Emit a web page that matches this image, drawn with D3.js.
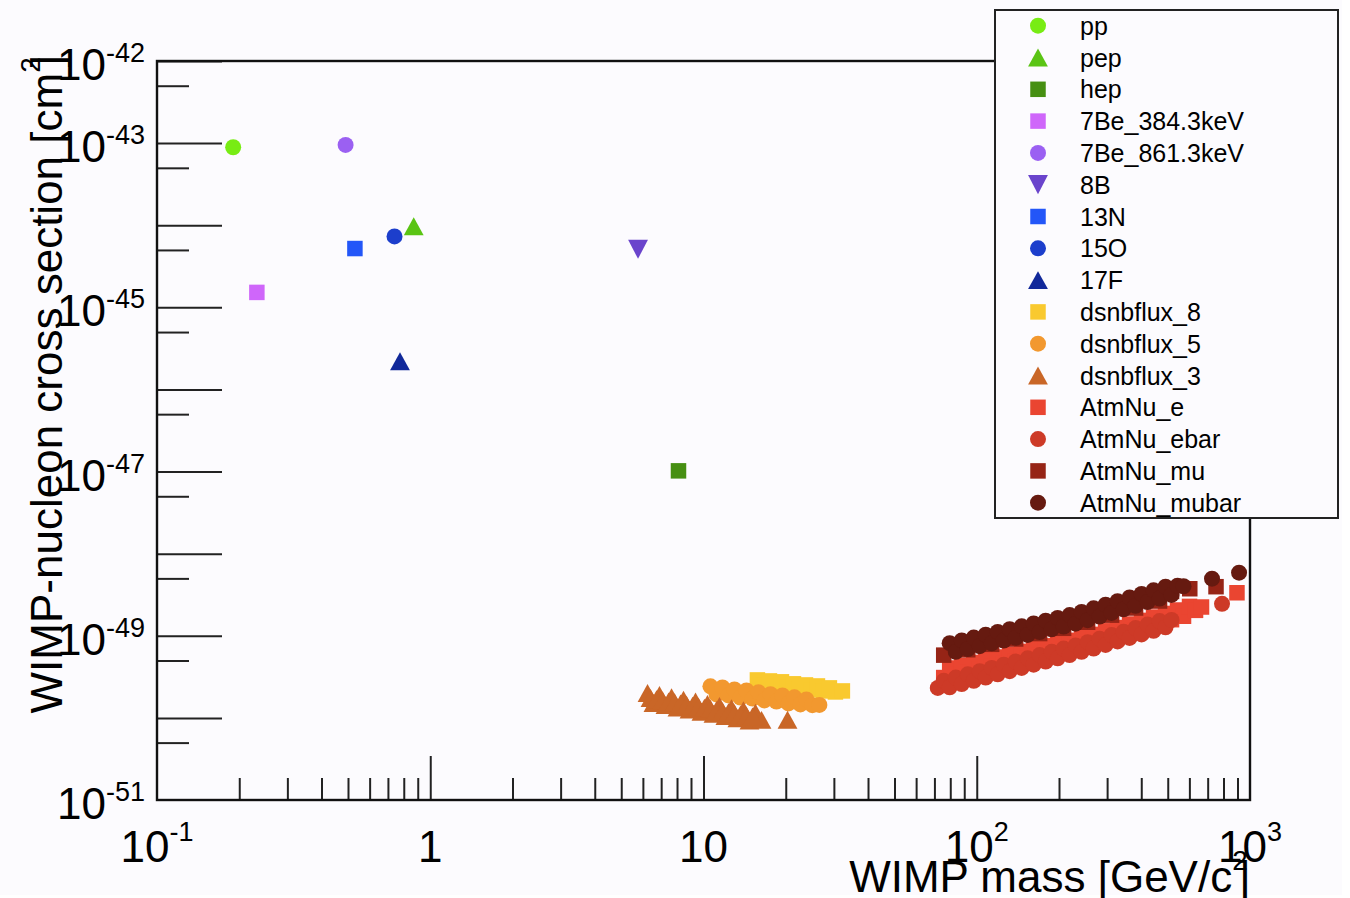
<!DOCTYPE html>
<html>
<head>
<meta charset="utf-8">
<script src="https://cdn.jsdelivr.net/npm/d3@7"></script>
<style>
  html, body { margin: 0; padding: 0; background: #ffffff; }
  svg { display: block; font-family: "Liberation Sans", Arial, Helvetica, sans-serif; }
</style>
</head>
<body>
<svg id="chart" width="1350" height="898"></svg>
<script>
// ---- data ----
const seriesNames = ["pp", "pep", "hep", "7Be_384.3keV", "7Be_861.3keV", "8B", "13N", "15O", "17F",
  "dsnbflux_8", "dsnbflux_5", "dsnbflux_3", "AtmNu_e", "AtmNu_ebar", "AtmNu_mu", "AtmNu_mubar"];

// [WIMP mass GeV/c^2, cross section cm^2]
const ppPoints = [[0.19, 8.9e-44]];
const pepPoints = [[0.87, 9.7e-45]];
const hepPoints = [[8.1, 1.02e-47]];
const be384Points = [[0.232, 1.52e-45]];
const be861Points = [[0.49, 9.5e-44]];
const b8Points = [[5.76, 5.1e-45]];
const n13Points = [[0.53, 5.2e-45]];
const o15Points = [[0.74, 7.3e-45]];
const f17Points = [[0.775, 2.2e-46]];

const dsnb8Points = [
  [15.75, 2.90e-50], [16.57, 2.52e-50], [17.43, 2.82e-50], [18.34, 2.45e-50], [19.29, 2.75e-50],
  [20.29, 2.39e-50], [21.34, 2.60e-50], [22.44, 2.26e-50], [23.61, 2.52e-50], [24.83, 2.19e-50],
  [26.12, 2.45e-50], [27.47, 2.13e-50], [28.89, 2.32e-50], [30.39, 2.07e-50], [32.23, 2.13e-50]];
const dsnb5Points = [
  [10.6, 2.42e-50], [11.16, 1.93e-50], [11.73, 2.35e-50], [12.34, 1.88e-50], [12.98, 2.22e-50],
  [13.65, 1.77e-50], [14.36, 2.16e-50], [15.11, 1.72e-50], [15.89, 2.05e-50], [16.71, 1.63e-50],
  [17.58, 1.94e-50], [18.49, 1.58e-50], [19.45, 1.88e-50], [20.46, 1.50e-50], [21.51, 1.78e-50],
  [22.63, 1.46e-50], [23.80, 1.68e-50], [25.03, 1.43e-50], [26.55, 1.44e-50]];
const dsnb3Points = [
  [6.24, 2.01e-50], [6.56, 1.52e-50], [6.90, 1.90e-50], [7.26, 1.43e-50], [7.64, 1.78e-50],
  [8.03, 1.34e-50], [8.45, 1.67e-50], [8.89, 1.26e-50], [9.35, 1.58e-50], [9.83, 1.19e-50],
  [10.34, 1.48e-50], [10.88, 1.12e-50], [11.44, 1.40e-50], [12.03, 1.05e-50], [12.66, 1.31e-50],
  [13.31, 9.89e-51], [14.00, 1.24e-50], [14.73, 9.31e-51], [15.49, 1.16e-50], [16.30, 9.46e-51],
  [20.3, 9.5e-51],
  [6.40, 1.75e-50], [6.73, 1.69e-50], [7.08, 1.64e-50], [7.45, 1.59e-50], [7.84, 1.55e-50],
  [8.24, 1.50e-50], [8.67, 1.45e-50], [9.12, 1.41e-50], [9.59, 1.37e-50], [10.08, 1.33e-50],
  [10.60, 1.29e-50], [11.16, 1.25e-50], [11.73, 1.21e-50], [12.34, 1.17e-50], [12.98, 1.14e-50],
  [13.65, 1.10e-50], [14.36, 1.07e-50], [15.11, 1.04e-50]];

const atmEPoints = [
  [75.7, 3.10e-50], [79.6, 4.05e-50], [83.8, 3.36e-50], [88.1, 4.38e-50], [92.7, 3.63e-50],
  [97.5, 4.73e-50], [102.5, 3.93e-50], [107.8, 5.12e-50], [113.4, 4.24e-50], [119.3, 5.52e-50],
  [125.5, 4.58e-50], [132.0, 5.97e-50], [138.8, 4.95e-50], [146.0, 6.46e-50], [153.6, 5.36e-50],
  [161.5, 6.98e-50], [169.9, 5.79e-50], [178.7, 7.55e-50], [188.0, 6.27e-50], [197.7, 8.17e-50],
  [207.9, 6.78e-50], [218.7, 8.81e-50], [230.0, 7.31e-50], [241.9, 9.53e-50], [254.5, 7.91e-50],
  [267.7, 1.04e-49], [281.5, 8.69e-50], [296.1, 1.15e-49], [311.5, 9.59e-50], [327.6, 1.26e-49],
  [344.6, 1.06e-49], [362.5, 1.39e-49], [381.2, 1.17e-49], [401.0, 1.54e-49], [421.8, 1.29e-49],
  [443.6, 1.69e-49], [466.6, 1.42e-49], [490.8, 1.87e-49], [516.2, 1.57e-49], [543.0, 2.06e-49],
  [571.1, 1.73e-49], [600.7, 2.28e-49], [631.9, 2.04e-49], [664.6, 2.24e-49], [896, 3.34e-49]];
const atmEbarPoints = [
  [72.0, 2.32e-50], [75.7, 2.83e-50], [79.6, 2.36e-50], [83.8, 3.10e-50], [88.1, 2.58e-50],
  [92.7, 3.39e-50], [97.5, 2.83e-50], [102.5, 3.71e-50], [107.8, 3.10e-50], [113.4, 4.06e-50],
  [119.3, 3.39e-50], [125.5, 4.45e-50], [132.0, 3.71e-50], [138.8, 4.86e-50], [146.0, 4.06e-50],
  [153.6, 5.32e-50], [161.5, 4.45e-50], [169.9, 5.82e-50], [178.7, 4.86e-50], [188.0, 6.37e-50],
  [197.7, 5.32e-50], [207.9, 6.98e-50], [218.7, 5.82e-50], [230.0, 7.64e-50], [241.9, 6.37e-50],
  [254.5, 8.36e-50], [267.7, 7.00e-50], [281.5, 9.23e-50], [296.1, 7.73e-50], [311.5, 1.02e-49],
  [327.6, 8.53e-50], [344.6, 1.12e-49], [362.5, 9.42e-50], [381.2, 1.24e-49], [401.0, 1.04e-49],
  [421.8, 1.37e-49], [443.6, 1.15e-49], [466.6, 1.51e-49], [490.8, 1.27e-49], [516.2, 1.56e-49],
  [790, 2.45e-49]];
const atmMuPoints = [
  [75.7, 5.81e-50], [83.8, 7.41e-50], [92.7, 6.76e-50], [102.5, 8.63e-50], [113.4, 7.87e-50],
  [125.5, 1.005e-49], [138.8, 9.14e-50], [153.6, 1.167e-49], [169.9, 1.064e-49], [188.0, 1.355e-49],
  [207.9, 1.233e-49], [230.0, 1.578e-49], [254.5, 1.462e-49], [281.5, 1.91e-49], [311.5, 1.782e-49],
  [344.6, 2.328e-49], [381.2, 2.178e-49], [421.8, 2.844e-49], [466.6, 2.649e-49], [516.2, 3.467e-49],
  [602, 3.74e-49], [751, 3.96e-49]];
const atmMubarPoints = [
  [79.6, 8.13e-50], [83.8, 6.38e-50], [88.1, 8.79e-50], [92.7, 6.90e-50], [97.5, 9.51e-50],
  [102.5, 7.48e-50], [107.8, 1.03e-49], [113.4, 8.09e-50], [119.3, 1.114e-49], [125.5, 8.75e-50],
  [132.0, 1.205e-49], [138.8, 9.46e-50], [146.0, 1.303e-49], [153.6, 1.025e-49], [161.5, 1.413e-49],
  [169.9, 1.109e-49], [178.7, 1.528e-49], [188.0, 1.200e-49], [197.7, 1.652e-49], [207.9, 1.297e-49],
  [218.7, 1.786e-49], [230.0, 1.403e-49], [241.9, 1.950e-49], [254.5, 1.549e-49], [267.7, 2.158e-49],
  [281.5, 1.714e-49], [296.1, 2.388e-49], [311.5, 1.897e-49], [327.6, 2.642e-49], [344.6, 2.099e-49],
  [362.5, 2.924e-49], [381.2, 2.323e-49], [401.0, 3.236e-49], [421.8, 2.570e-49], [443.6, 3.581e-49],
  [466.6, 2.844e-49], [490.8, 3.963e-49], [516.2, 3.148e-49], [543.0, 4.08e-49], [571.1, 4.01e-49],
  [726, 4.96e-49], [912, 5.87e-49]];

const seriesPoints = [ppPoints, pepPoints, hepPoints, be384Points, be861Points, b8Points,
  n13Points, o15Points, f17Points, dsnb8Points, dsnb5Points, dsnb3Points,
  atmEPoints, atmEbarPoints, atmMuPoints, atmMubarPoints];

// axis labels
const xLabelValues = [0.1, 1, 10, 100, 1000];
const xLabelBase = ["10", "1", "10", "10", "10"];
const xLabelExp = ["-1", "", "", "2", "3"];
const yLabelExponents = [-42, -43, -45, -47, -49, -51];
const xTitle = "WIMP mass [GeV/c";
const yTitle = "WIMP-nucleon cross section [cm";

// ---- styles ----
const colors = ["#78ec14", "#5ac414", "#468f12", "#cf66fa", "#9b60f2", "#6a44cc", "#2356f8", "#1c3ecc",
  "#11289a", "#f9c92f", "#f2982f", "#c96627", "#ea4531", "#cd3a27", "#962416", "#661a10"];
const shapes = ["circle", "triUp", "square", "square", "circle", "triDown", "square", "circle",
  "triUp", "square", "circle", "triUp", "square", "circle", "square", "circle"];

const frame = { left: 157, right: 1250, top: 61, bottom: 800 };
const BG = "#fcfbfe";

const svg = d3.select("#chart");

// pad background
svg.append("rect").attr("x", 0).attr("y", 0).attr("width", 1342).attr("height", 895).attr("fill", BG);

// scales
const x = d3.scaleLog().domain([0.1, 1000]).range([frame.left, frame.right]);
const y = d3.scaleLog().domain([1e-51, 1e-42]).range([frame.bottom, frame.top]);

// marker shapes, centred on their bounding box
const triUp = { draw(ctx, size) { const w = Math.sqrt(size) * 0.62, h = Math.sqrt(size) * 0.56;
  ctx.moveTo(0, -h); ctx.lineTo(w, h); ctx.lineTo(-w, h); ctx.closePath(); } };
const triDown = { draw(ctx, size) { const w = Math.sqrt(size) * 0.62, h = Math.sqrt(size) * 0.6;
  ctx.moveTo(0, h); ctx.lineTo(w, -h); ctx.lineTo(-w, -h); ctx.closePath(); } };
const symbolFor = (shape) => {
  if (shape === "circle") return d3.symbol(d3.symbolCircle, Math.PI * 8 * 8);
  if (shape === "square") return d3.symbol(d3.symbolSquare, 15.5 * 15.5);
  if (shape === "triUp") return d3.symbol(triUp, 16 * 16);
  return d3.symbol(triDown, 16 * 16);
};

// x axis ticks (pointing up into the frame)
const xMinor = [];
[0.1, 1, 10, 100].forEach((d) => { for (let k = 2; k <= 9; k++) xMinor.push(d * k); });
const xMajor = [1, 10, 100];

const gx = svg.append("g").attr("transform", `translate(0,${frame.bottom})`);
gx.append("g").call(d3.axisBottom(x).tickValues(xMinor).tickSize(-22).tickSizeOuter(0).tickFormat(""));
gx.append("g").call(d3.axisBottom(x).tickValues(xMajor).tickSize(-44).tickSizeOuter(0).tickFormat(""));
gx.selectAll(".domain").remove();
gx.selectAll("line").attr("stroke", "#222").attr("stroke-width", 2);

// y axis ticks (pointing right into the frame)
const yMajor = d3.range(-50, -41).map((e) => Math.pow(10, e));
const yMinor = d3.range(-51, -42).map((e) => 5 * Math.pow(10, e));
const gy = svg.append("g").attr("transform", `translate(${frame.left},0)`);
gy.append("g").call(d3.axisLeft(y).tickValues(yMinor).tickSize(-32).tickSizeOuter(0).tickFormat(""));
gy.append("g").call(d3.axisLeft(y).tickValues(yMajor).tickSize(-65).tickSizeOuter(0).tickFormat(""));
gy.selectAll(".domain").remove();
gy.selectAll("line").attr("stroke", "#222").attr("stroke-width", 2);

// frame
svg.append("rect")
  .attr("x", frame.left).attr("y", frame.top)
  .attr("width", frame.right - frame.left).attr("height", frame.bottom - frame.top)
  .attr("fill", "none").attr("stroke", "#111").attr("stroke-width", 2.4);

// x tick labels
const xl = svg.append("g").attr("font-size", 44).attr("fill", "#000");
xLabelValues.forEach((v, i) => {
  const t = xl.append("text").attr("x", x(v)).attr("y", 862).attr("text-anchor", "middle");
  t.append("tspan").text(xLabelBase[i]);
  if (xLabelExp[i]) t.append("tspan").attr("font-size", 27).attr("dy", -21).text(xLabelExp[i]);
});

// y tick labels
const yl = svg.append("g").attr("font-size", 44).attr("fill", "#000");
yLabelExponents.forEach((e) => {
  const t = yl.append("text").attr("x", 145).attr("y", y(Math.pow(10, e)) + 19).attr("text-anchor", "end");
  t.append("tspan").text("10");
  t.append("tspan").attr("font-size", 27).attr("dy", -18).text(String(e));
});

// axis titles
const xt = svg.append("text").attr("x", frame.right).attr("y", 892)
  .attr("text-anchor", "end").attr("font-size", 44);
xt.append("tspan").text(xTitle);
xt.append("tspan").attr("font-size", 28).attr("dy", -22).text("2");
xt.append("tspan").attr("dy", 22).attr("dx", -10).text("]");

const yt = svg.append("text").attr("transform", `translate(62,55) rotate(-90)`)
  .attr("text-anchor", "end").attr("font-size", 44);
yt.append("tspan").text(yTitle);
yt.append("tspan").attr("font-size", 28).attr("dy", -22).text("2");
yt.append("tspan").attr("dy", 22).attr("dx", -10).text("]");

// markers, drawn series by series in legend order
const plot = svg.append("g");
seriesPoints.forEach((pts, i) => {
  plot.append("g")
    .selectAll("path")
    .data(pts)
    .join("path")
    .attr("transform", (d) => `translate(${x(d[0])},${y(d[1])})`)
    .attr("d", symbolFor(shapes[i]))
    .attr("fill", colors[i]);
});

// legend
const legend = svg.append("g");
legend.append("rect").attr("x", 995).attr("y", 10).attr("width", 343).attr("height", 508)
  .attr("fill", BG).attr("stroke", "#222").attr("stroke-width", 2);
const rowY = d3.scaleLinear().domain([0, seriesNames.length - 1]).range([25.7, 502.7]);
seriesNames.forEach((name, i) => {
  legend.append("path")
    .attr("transform", `translate(1038,${rowY(i)})`)
    .attr("d", symbolFor(shapes[i]))
    .attr("fill", colors[i]);
  legend.append("text").attr("x", 1080).attr("y", rowY(i) + 9)
    .attr("font-size", 25).attr("fill", "#000").text(name);
});
</script>
</body>
</html>
